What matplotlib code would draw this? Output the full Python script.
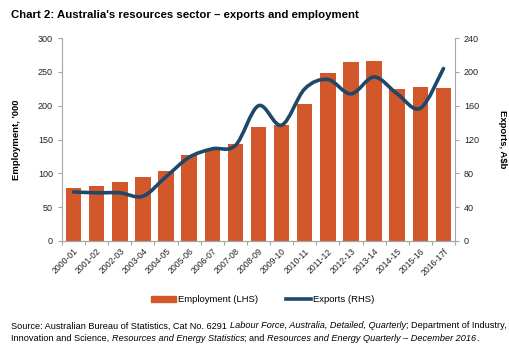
import numpy as np
import matplotlib
matplotlib.use("Agg")
import matplotlib.pyplot as plt
from matplotlib.path import Path
from matplotlib.patches import PathPatch, Patch
from matplotlib.lines import Line2D

plt.rcParams['font.family'] = ['Liberation Sans', 'DejaVu Sans']

years = ["2000-01", "2001-02", "2002-03", "2003-04", "2004-05", "2005-06",
         "2006-07", "2007-08", "2008-09", "2009-10", "2010-11", "2011-12",
         "2012-13", "2013-14", "2014-15", "2015-16", "2016-17f"]
employment = [79, 81, 87, 95, 104, 127, 134, 144, 169, 171, 203, 248,
              265, 266, 225, 227, 226]
exports = [58, 57, 57, 53, 76, 99, 109, 113, 160, 137, 180, 191,
           174, 194, 174, 157, 204]

bar_col = '#D2572B'
line_col = '#1E4868'
axis_col = '#A6A6A6'

fig = plt.figure(figsize=(5.10, 3.46), dpi=100)
ax = fig.add_axes([0.1216, 0.3035, 0.7706, 0.5865])
ax2 = ax.twinx()

x = np.arange(len(years))
ax.bar(x, employment, width=0.67, color=bar_col, zorder=2)
ax.set_xlim(-0.5, len(years) - 0.5)
ax.set_ylim(0, 300)
ax.set_yticks(range(0, 301, 50))
ax2.set_ylim(0, 240)
ax2.set_yticks(range(0, 241, 40))

# smoothed line like the spreadsheet (catmull-rom -> bezier)
pts = np.column_stack([x, exports]).astype(float)
verts = [pts[0]]
codes = [Path.MOVETO]
for i in range(len(pts) - 1):
    p0 = pts[max(i - 1, 0)]
    p1 = pts[i]
    p2 = pts[i + 1]
    p3 = pts[min(i + 2, len(pts) - 1)]
    c1 = p1 + (p2 - p0) / 6.0
    c2 = p2 - (p3 - p1) / 6.0
    verts += [c1, c2, p2]
    codes += [Path.CURVE4] * 3
ax2.add_patch(PathPatch(Path(verts, codes), facecolor='none', edgecolor=line_col,
                        lw=2.6, capstyle='round', zorder=3))

for a in (ax, ax2):
    a.spines['top'].set_visible(False)
    for s in ('left', 'right', 'bottom'):
        a.spines[s].set_color(axis_col)
        a.spines[s].set_linewidth(0.8)
    a.tick_params(axis='y', colors=axis_col, labelcolor='#222222',
                  labelsize=6.5, length=3, width=0.8)
ax2.spines['left'].set_visible(False)
ax.spines['right'].set_visible(False)

ax.set_xticks(np.arange(-0.5, len(years), 1.0))
ax.set_xticklabels([])
ax.set_xticks(x, minor=True)
ax.set_xticklabels(years, minor=True, rotation=45, ha='right',
                   rotation_mode='anchor', fontsize=6.2, color='#222222')
ax.tick_params(axis='x', which='major', length=3, color=axis_col, width=0.8)
ax.tick_params(axis='x', which='minor', length=0, pad=4)

ax.set_ylabel("Employment, '000", fontsize=6.8, fontweight='bold', labelpad=12)
ax2.set_ylabel("Exports, A$b", fontsize=6.8, fontweight='bold',
               rotation=270, labelpad=20)

handles = [Patch(color=bar_col, label='Employment (LHS)'),
           Line2D([0], [0], color=line_col, lw=2.6, label='Exports (RHS)')]
fig.legend(handles=handles, loc='center', bbox_to_anchor=(0.515, 0.133),
           ncol=2, frameon=False, fontsize=6.8, handlelength=2.6,
           handleheight=0.5, columnspacing=3.0, handletextpad=0.2)

fig.text(0.022, 0.972, "Chart 2: Australia's resources sector \u2013 exports and employment",
         fontsize=8.2, fontweight='bold', va='top', ha='left')

# source note: chain pieces so italic parts sit inline
src_lines = [
    [("Source: Australian Bureau of Statistics, Cat No. 6291 ", 'normal'),
     ("Labour Force, Australia, Detailed, Quarterly", 'italic'),
     ("; Department of Industry,", 'normal')],
    [("Innovation and Science, ", 'normal'),
     ("Resources and Energy Statistics", 'italic'),
     ("; and ", 'normal'),
     ("Resources and Energy Quarterly \u2013 December 2016", 'italic'),
     (".", 'normal')],
]
for yy, pieces in zip([0.045, 0.008], src_lines):
    prev = None
    for txt, style in pieces:
        if prev is None:
            prev = fig.text(0.022, yy, txt, fontsize=6.6, style=style,
                            va='bottom', ha='left')
        else:
            prev = ax.annotate(txt, xy=(1, 0), xycoords=prev, va='bottom',
                               ha='left', fontsize=6.6, style=style,
                               annotation_clip=False)

fig.savefig("out.png", dpi=100)
